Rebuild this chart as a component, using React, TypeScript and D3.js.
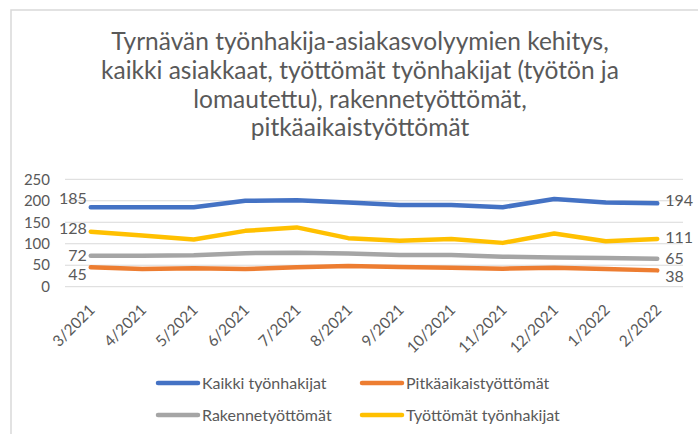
import React from "react";
import * as d3 from "d3";

const categories = ["3/2021","4/2021","5/2021","6/2021","7/2021","8/2021","9/2021","10/2021","11/2021","12/2021","1/2022","2/2022"];
const seriesNames = ["Kaikki työnhakijat","Pitkäaikaistyöttömät","Rakennetyöttömät","Työttömät työnhakijat"];
const kaikki = [185,185,185,200,201,196,190,190,185,204,196,194];
const pitka = [45,41,43,41,45,48,46,44,42,44,41,38];
const rakenne = [72,72,73,78,79,77,74,74,70,68,67,65];
const tyottomat = [128,119,110,130,138,113,107,111,102,124,106,111];
const yTicks = [0,50,100,150,200,250];
const titleLines = [
  "Tyrnävän työnhakija-asiakasvolyymien kehitys,",
  "kaikki asiakkaat, työttömät työnhakijat (työtön ja",
  "lomautettu), rakennetyöttömät,",
  "pitkäaikaistyöttömät",
];

const colors = ["#4472C4", "#ED7D31", "#A5A5A5", "#FFC000"];
// label vertical nudges [first, last] per series
const labelNudge = [[-9, -3], [7, 6], [0, 0], [-3, -2]];

const FONT = "Lato, 'Open Sans', sans-serif";
const TXT = "#595959";

export default function App() {
  const W = 698, H = 434;
  const x = d3.scaleBand<string>().domain(categories).range([65, 683]);
  const y = d3.scaleLinear().domain([0, 250]).range([286.7, 179.3]);
  const cx = (c: string) => (x(c) as number) + x.bandwidth() / 2;
  const data = [kaikki, pitka, rakenne, tyottomat];
  const line = d3.line<number>().x((_, i) => cx(categories[i])).y((v) => y(v));

  const legendPos = [
    [158, 383], [362, 383], [158, 415], [362, 415],
  ];

  return (
    <svg width={W} height={H} style={{ position: "absolute", left: 0, top: 0, display: "block" }} fontFamily={FONT}>
      <rect x={0} y={0} width={W} height={H} fill="#fff" />
      <rect x={11} y={10} width={760} height={500} fill="#fff" stroke="#d9d9d9" strokeWidth={1.5} />
      {titleLines.map((t, i) => (
        <text key={i} x={360} y={50 + i * 28.8} textAnchor="middle" fontSize={24.5} fill={TXT}>{t}</text>
      ))}
      {yTicks.map((t) => (
        <g key={t}>
          <line x1={65} x2={683} y1={y(t)} y2={y(t)} stroke="#d9d9d9" strokeWidth={1} />
          <text x={50} y={y(t)} dy="0.35em" textAnchor="end" fontSize={15} fill={TXT}>{t}</text>
        </g>
      ))}
      {categories.map((c) => (
        <text key={c} transform={`translate(${cx(c) + 5},311) rotate(-45)`} textAnchor="end" fontSize={15.5} fill={TXT}>{c}</text>
      ))}
      {data.map((d, si) => (
        <path key={si} d={line(d) || ""} fill="none" stroke={colors[si]} strokeWidth={4.5} strokeLinejoin="round" strokeLinecap="round" />
      ))}
      {data.map((d, si) => (
        <g key={"l" + si}>
          <text x={cx(categories[0]) - 4} y={y(d[0]) + labelNudge[si][0]} dy="0.35em" textAnchor="end" fontSize={16} fill={TXT}>{d[0]}</text>
          <text x={cx(categories[categories.length - 1]) + 8} y={y(d[d.length - 1]) + labelNudge[si][1]} dy="0.35em" textAnchor="start" fontSize={16} fill={TXT}>{d[d.length - 1]}</text>
        </g>
      ))}
      {seriesNames.map((n, i) => (
        <g key={n}>
          <line x1={legendPos[i][0]} x2={legendPos[i][0] + 40} y1={legendPos[i][1]} y2={legendPos[i][1]} stroke={colors[i]} strokeWidth={4.5} strokeLinecap="round" />
          <text x={legendPos[i][0] + 44} y={legendPos[i][1]} dy="0.35em" fontSize={16} fill={TXT}>{n}</text>
        </g>
      ))}
    </svg>
  );
}
